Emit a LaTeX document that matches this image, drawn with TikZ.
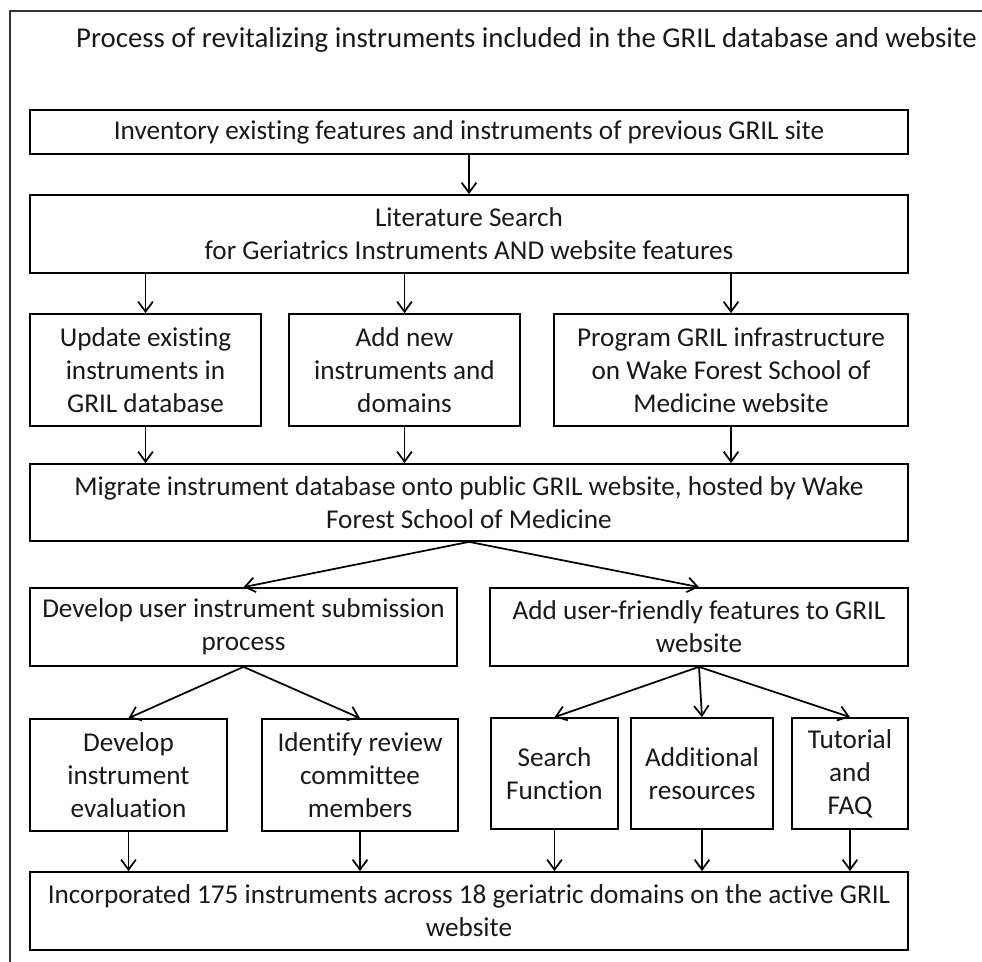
\documentclass[tikz,border=0pt]{standalone}
\usepackage{fontspec}
\setmainfont{Carlito}[Ligatures=NoCommon]
\usetikzlibrary{arrows.meta}
\newcommand{\bx}[6]{\node[box, minimum width={(#4-#2)*0.75pt}, minimum height={(#5-#3)*0.75pt}] (#1) at ({(#2+#4)/2},{(#3+#5)/2}) {#6};}
\begin{document}
\begin{tikzpicture}[x=0.75pt,y=-0.75pt,
  box/.style={draw, line width=1.3pt, align=center, inner sep=0pt, font=\fontsize{20.4}{24.75}\selectfont, text=black!90},
  arr/.style={-{Straight Barb[length=7.5pt,width=11pt]}, line width=1.3pt}]
\useasboundingbox (0,0) rectangle (982,962);
\draw[line width=0.9pt, black!80] (10,962) -- (10,11) -- (982,11);
\node[font=\fontsize{21.6}{26}\selectfont, text=black!90, inner sep=0pt] (title) at (526.5,40) {Process of revitalizing instruments included in the GRIL database and website};
\bx{B1}{30}{110}{908}{154}{Inventory existing features and instruments of previous GRIL site}
\bx{B2}{30}{195}{908}{273}{Literature Search\\for Geriatrics Instruments AND website features}
\bx{A}{30}{314}{261}{426}{Update existing\\instruments in\\GRIL database}
\bx{B}{289}{314}{520}{426}{Add new\\instruments and\\domains}
\bx{C}{554}{314}{908}{426}{Program GRIL infrastructure\\on Wake Forest School of\\Medicine website}
\bx{B4}{30}{464}{908}{541}{Migrate instrument database onto public GRIL website, hosted by Wake\\Forest School of Medicine}
\bx{D}{30}{588}{457}{666}{Develop user instrument submission\\process}
\bx{E}{490}{588}{908}{666}{Add user-friendly features to GRIL\\website}
\bx{F}{30}{719}{227}{831}{Develop\\instrument\\evaluation}
\bx{G}{262}{719}{458}{831}{Identify review\\committee\\members}
\bx{H}{491}{718}{618}{829}{Search\\Function}
\bx{I}{631}{718}{773}{829}{Additional\\resources}
\bx{J}{792}{718}{908}{829}{Tutorial\\and\\FAQ}
\bx{B6}{30}{872}{908}{950}{Incorporated 175 instruments across 18 geriatric domains on the active GRIL\\website}
\draw[arr] (B1.south) -- (B2.north);
\foreach \n in {A,B,C}{
  \draw[arr] (B2.south -| \n) -- (\n.north);
  \draw[arr] (\n.south) -- (\n.south |- B4.north);
}
\draw[arr] (B4.south) -- (D.north);
\draw[arr] (B4.south) -- (E.north);
\draw[arr] (D.south) -- (F.north);
\draw[arr] (D.south) -- (G.north);
\draw[arr] (E.south) -- (H.north);
\draw[arr] (E.south) -- (I.north);
\draw[arr] (E.south) -- (J.north);
\foreach \n in {F,G,H,I,J}{
  \draw[arr] (\n.south) -- (\n.south |- B6.north);
}
\end{tikzpicture}
\end{document}
